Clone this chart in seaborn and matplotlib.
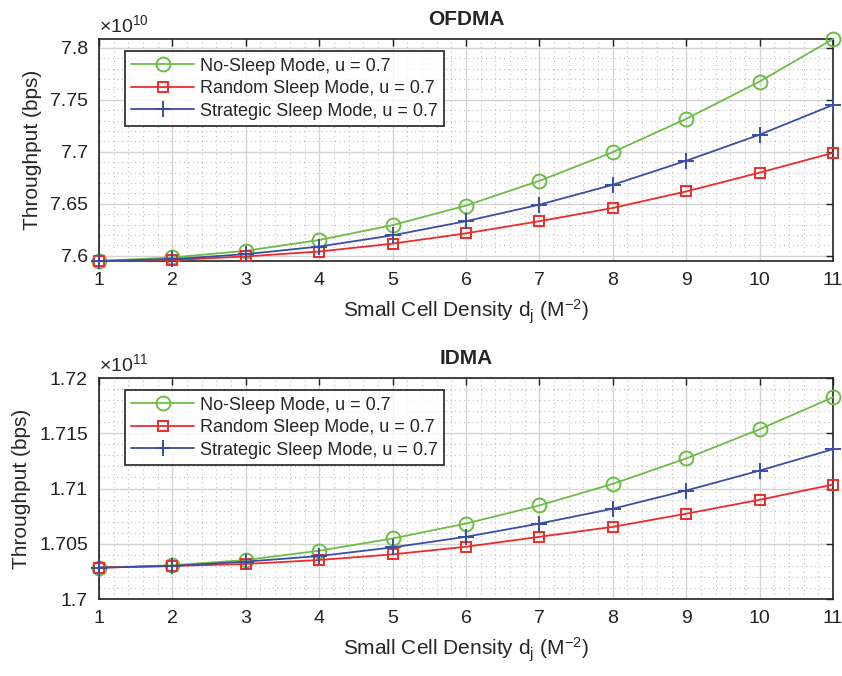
import numpy as np
import pandas as pd
import matplotlib
matplotlib.use("Agg")
import matplotlib.pyplot as plt
from matplotlib.ticker import FuncFormatter, AutoMinorLocator, MultipleLocator
import seaborn as sns

density = [1, 2, 3, 4, 5, 6, 7, 8, 9, 10, 11]
labels = ["No-Sleep Mode, u = 0.7", "Random Sleep Mode, u = 0.7", "Strategic Sleep Mode, u = 0.7"]

# OFDMA throughput (x 1e10 bps)
ofdma_nosleep = [7.5950, 7.5984, 7.6048, 7.6152, 7.6295, 7.6483, 7.6721, 7.6997, 7.7317, 7.7676, 7.8085]
ofdma_random = [7.5950, 7.5959, 7.5994, 7.6041, 7.6117, 7.6216, 7.6333, 7.6460, 7.6619, 7.6800, 7.6990]
ofdma_strategic = [7.5950, 7.5968, 7.6016, 7.6089, 7.6197, 7.6333, 7.6492, 7.6683, 7.6914, 7.7165, 7.7451]

# IDMA throughput (x 1e11 bps)
idma_nosleep = [1.70284, 1.70305, 1.70353, 1.70437, 1.70548, 1.70683, 1.70847, 1.71042, 1.71272, 1.71536, 1.71826]
idma_random = [1.70284, 1.70299, 1.70317, 1.70353, 1.70404, 1.70473, 1.70563, 1.70653, 1.70772, 1.70898, 1.71036]
idma_strategic = [1.70284, 1.70299, 1.70338, 1.70389, 1.70467, 1.70563, 1.70683, 1.70817, 1.70982, 1.71162, 1.71356]

colors = ["#6cbd45", "#ee2b2b", "#3a4ea3"]
markers = ["o", "s", "+"]
msizes = [10, 7.5, 12]

sns.set_style("white")
plt.rcParams["font.family"] = ["Liberation Sans", "DejaVu Sans"]
plt.rcParams["mathtext.fontset"] = "custom"
plt.rcParams["mathtext.rm"] = "Liberation Sans"
plt.rcParams["mathtext.it"] = "Liberation Sans"

fig = plt.figure(figsize=(8.42, 6.76), dpi=100)
ax1 = fig.add_axes([0.1176, 0.6139, 0.8717, 0.3284])
ax2 = fig.add_axes([0.1176, 0.1139, 0.8717, 0.3269])


def draw(ax, series, scale, exp, title, ylim, ymajor):
    for vals, lab, c, m, ms in zip(series, labels, colors, markers, msizes):
        df = pd.DataFrame({"d": density, "v": np.array(vals) * scale})
        sns.lineplot(data=df, x="d", y="v", ax=ax, color=c, marker=m,
                     markersize=ms, markerfacecolor="none", markeredgecolor=c,
                     markeredgewidth=1.4, linewidth=1.3, label=lab, clip_on=False,
                     zorder=3)
    ax.set_xlim(1, 11)
    ax.set_ylim(ylim[0] * scale, ylim[1] * scale)
    ax.xaxis.set_major_locator(MultipleLocator(1))
    ax.yaxis.set_major_locator(MultipleLocator(ymajor * scale))
    ax.xaxis.set_minor_locator(AutoMinorLocator(5))
    ax.yaxis.set_minor_locator(AutoMinorLocator(5))
    ax.yaxis.set_major_formatter(FuncFormatter(lambda v, p: "%g" % round(v / scale, 4)))
    ax.grid(True, which="major", color="#d4d4d4", linewidth=1.0, linestyle="-")
    ax.grid(True, which="minor", color="#bdbdbd", linewidth=0.8, linestyle=(0, (1, 3)))
    ax.set_axisbelow(True)
    ax.tick_params(axis="both", which="major", direction="in", length=5, width=1,
                   top=True, right=True, labelsize=14, pad=8, colors="#222222")
    ax.tick_params(axis="both", which="minor", length=0)
    for sp in ax.spines.values():
        sp.set_color("#222222")
        sp.set_linewidth(1.2)
    ax.set_title(title, fontsize=15, fontweight="bold", pad=10)
    ax.set_xlabel("Small Cell Density d$_\\mathregular{j}$ (M$^{-2}$)", fontsize=15, labelpad=6)
    ax.set_ylabel("Throughput (bps)", fontsize=15, labelpad=6)
    ax.text(0.0, 1.012, "\u00d710$^{%d}$" % exp, transform=ax.transAxes,
            fontsize=14, ha="left", va="bottom")
    leg = ax.legend(loc="upper left", bbox_to_anchor=(0.03, 0.96), fontsize=13,
                    frameon=True, fancybox=False, edgecolor="black",
                    handlelength=3.5, borderpad=0.35, labelspacing=0.3,
                    handletextpad=0.3, borderaxespad=0.2)
    leg.get_frame().set_linewidth(1.3)
    leg.set_zorder(5)


draw(ax1, [ofdma_nosleep, ofdma_random, ofdma_strategic], 1e10, 10, "OFDMA",
     (7.5950, 7.8085), 0.05)
draw(ax2, [idma_nosleep, idma_random, idma_strategic], 1e11, 11, "IDMA",
     (1.70, 1.72), 0.005)

fig.savefig("out.png", dpi=100)
